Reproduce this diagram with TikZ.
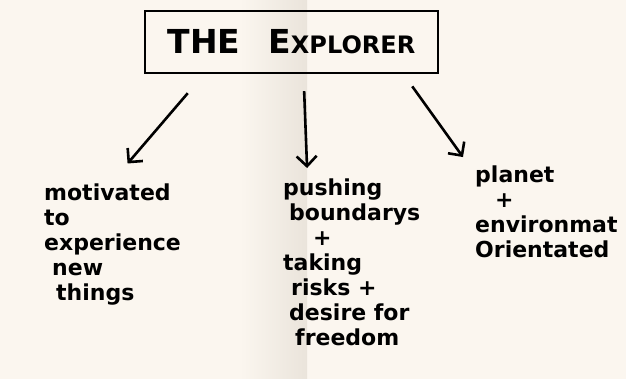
\documentclass[tikz,border=0pt]{standalone}
\usepackage{fontspec}
\setmainfont{DejaVu Sans}
\usetikzlibrary{arrows.meta, positioning}
\definecolor{paper}{HTML}{FBF6EF}
\definecolor{fold}{HTML}{EAE4DB}

\begin{document}
\begin{tikzpicture}[
    x=1pt, y=1pt,
    every node/.style={inner sep=0pt, align=left, font=\bfseries\fontsize{22}{25}\selectfont},
    arrow/.style={-{Straight Barb[length=10pt,width=20pt]}, line width=2.6pt}
]

% Paper
\fill[paper] (0,0) rectangle (626,379);
\shade[left color=paper, right color=fold] (240,0) rectangle (307,379);
\useasboundingbox (0,0) rectangle (626,379);

% Title
\node (explorer) [draw, line width=2.4pt, minimum width=293pt, minimum height=62pt, align=center] at (291.5,337) {{\fontsize{33}{33}\selectfont THE\hspace{28pt}E}{\fontsize{24}{24}\selectfont XPLORER}};

% Traits
\node (motivated) [anchor=north west] at (44,195) {motivated\\to\\experience\\\hspace{8pt}new\\\hspace{12pt}things};
\node (risks) [anchor=north west] at (283,200) {pushing\\\hspace{6pt}boundarys\\\hspace{30pt}+\\taking\\\hspace{8pt}risks +\\\hspace{6pt}desire for\\\hspace{12pt}freedom};
\node (planet) [anchor=north west] at (475,213) {planet\\\hspace{20pt}+\\environmat\\Orientated};

% Arrows
\draw[arrow, shorten <=25pt, shorten >=27pt] ([xshift=-87.5pt]explorer.south) -- ([xshift=66pt]motivated.north west);
\draw[arrow, shorten <=17pt, shorten >=11pt] ([xshift=12pt]explorer.south) -- ([xshift=24.5pt]risks.north west);
\draw[arrow, shorten <=15pt, shorten >=11pt] ([xshift=112pt]explorer.south) -- ([xshift=-5.6pt]planet.north west);

\end{tikzpicture}
\end{document}
